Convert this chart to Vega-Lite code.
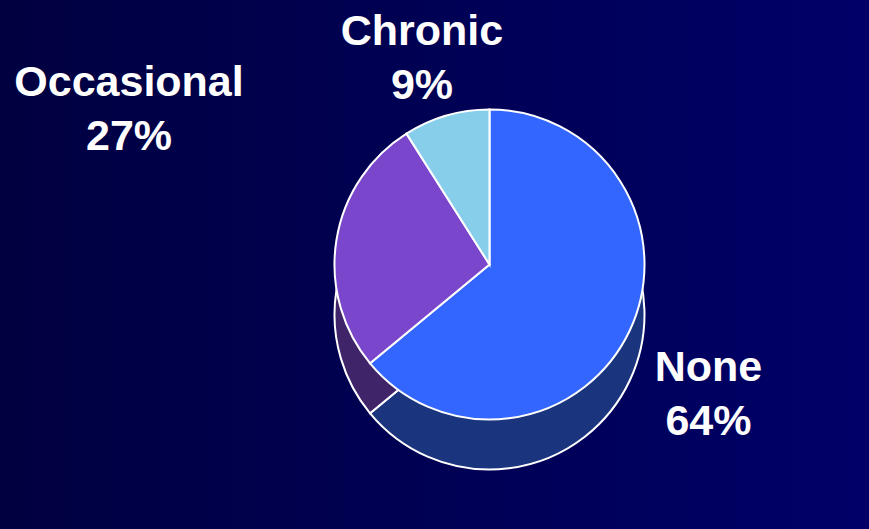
{
  "$schema": "https://vega.github.io/schema/vega-lite/v6.json",
  "width": 869,
  "height": 529,
  "autosize": {"type": "none"},
  "padding": 0,
  "background": "#000040",
  "config": {"view": {"stroke": null}},
  "data": {
    "values": [
      {"category": "None", "value": 64, "order": 1},
      {"category": "Occasional", "value": 27, "order": 2},
      {"category": "Chronic", "value": 9, "order": 3}
    ]
  },
  "transform": [
    {"calculate": "[datum.category, datum.value + '%']", "as": "label"}
  ],
  "layer": [
    {
      "data": {"values": [{}]},
      "transform": [],
      "mark": {
        "type": "rect",
        "fill": {
          "gradient": "linear",
          "x1": 0, "y1": 0, "x2": 1, "y2": 0,
          "stops": [
            {"offset": 0, "color": "#000040"},
            {"offset": 1, "color": "#000068"}
          ]
        }
      },
      "encoding": {}
    },
    {
      "mark": {"type": "arc", "radius": 155, "xOffset": 55, "yOffset": 50, "stroke": "white", "strokeWidth": 2},
      "encoding": {
        "theta": {"field": "value", "type": "quantitative", "stack": true},
        "order": {"field": "order", "type": "quantitative"},
        "color": {
          "field": "category", "type": "nominal", "legend": null,
          "scale": {"domain": ["None", "Occasional", "Chronic"], "range": ["#1b347e", "#40246a", "#4f7f99"]}
        }
      }
    },
    {
      "mark": {"type": "arc", "radius": 155, "xOffset": 55, "yOffset": 0, "stroke": "white", "strokeWidth": 2},
      "encoding": {
        "theta": {"field": "value", "type": "quantitative", "stack": true},
        "order": {"field": "order", "type": "quantitative"},
        "fill": {
          "field": "category", "type": "nominal", "legend": null,
          "scale": {"domain": ["None", "Occasional", "Chronic"], "range": ["#3366ff", "#7a46cc", "#87ceeb"]}
        }
      }
    },
    {
      "mark": {"type": "text", "radius": 242, "xOffset": 55, "yOffset": 0, "font": "Liberation Sans", "fontWeight": "bold", "fontSize": 43, "lineHeight": 54, "fill": "white", "align": "center", "baseline": "middle"},
      "encoding": {
        "theta": {"field": "value", "type": "quantitative", "stack": true},
        "order": {"field": "order", "type": "quantitative"},
        "text": {"field": "label"},
        "opacity": {"condition": {"test": "datum.category !== 'Occasional'", "value": 1}, "value": 0}
      }
    },
    {
      "mark": {"type": "text", "radius": 365, "xOffset": 55, "yOffset": -124, "font": "Liberation Sans", "fontWeight": "bold", "fontSize": 43, "lineHeight": 54, "fill": "white", "align": "center", "baseline": "middle"},
      "encoding": {
        "theta": {"field": "value", "type": "quantitative", "stack": true},
        "order": {"field": "order", "type": "quantitative"},
        "text": {"field": "label"},
        "opacity": {"condition": {"test": "datum.category === 'Occasional'", "value": 1}, "value": 0}
      }
    }
  ],
  "resolve": {"scale": {"color": "independent", "fill": "independent"}}
}
